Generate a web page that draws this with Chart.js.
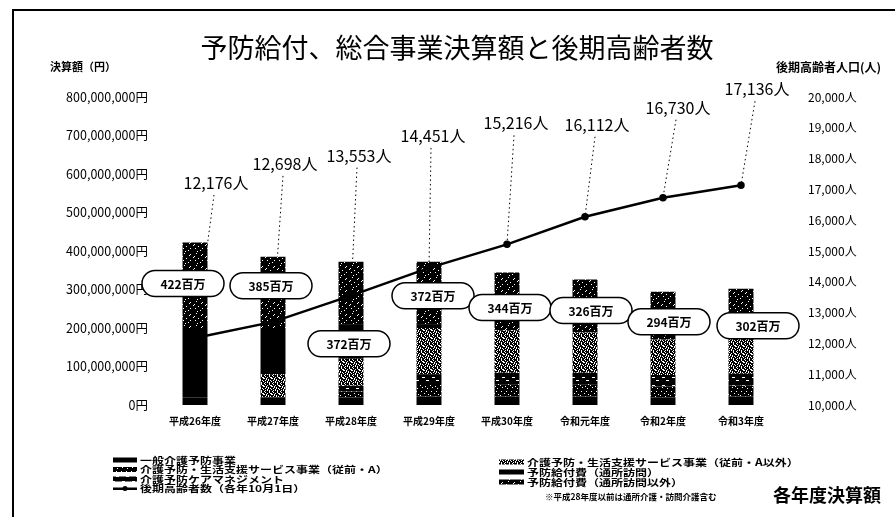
<!DOCTYPE html>
<html lang="ja">
<head>
<meta charset="utf-8">
<title>予防給付、総合事業決算額と後期高齢者数</title>
<script src="https://cdn.jsdelivr.net/npm/chart.js@4.4.1/dist/chart.umd.min.js"></script>
<style>
  html, body { margin: 0; padding: 0; background: #fff; }
  #contenedor { position: relative; width: 895px; height: 517px; overflow: hidden; }
</style>
</head>
<body>
<div id="contenedor"><canvas id="graficoKaigo" width="895" height="517"></canvas></div>
<script>
// 年度
const nendo = ['平成26年度', '平成27年度', '平成28年度', '平成29年度', '平成30年度', '令和元年度', '令和2年度', '令和3年度'];

// 決算額（百万円）
const ippanKaigoYobou = [20, 20, 20, 22, 22, 22, 20, 22];        // 一般介護予防事業
const juzenA = [0, 0, 15, 30, 32, 32, 28, 28];                   // 介護予防・生活支援サービス事業（従前・A）
const careManagement = [0, 0, 15, 28, 30, 30, 30, 31];           // 介護予防ケアマネジメント
const juzenAIgai = [0, 60, 70, 120, 110, 104, 92, 95];           // 介護予防・生活支援サービス事業（従前・A以外）
const yobouTsushoHoumon = [180, 120, 90, 10, 0, 0, 0, 0];        // 予防給付費（通所訪問）
const yobouIgai = [222, 185, 162, 162, 150, 138, 124, 126];      // 予防給付費（通所訪問以外）

// 後期高齢者数（各年10月1日）
const koukiKoureisha = [12176, 12698, 13553, 14451, 15216, 16112, 16730, 17136];

// 目盛り
const ticksKingaku = [0, 100000000, 200000000, 300000000, 400000000, 500000000, 600000000, 700000000, 800000000];
const ticksNinzu = [10000, 11000, 12000, 13000, 14000, 15000, 16000, 17000, 18000, 19000, 20000];

// 吹き出しの位置（棒の上端からのずれ, px）
const posGoukei = [[-12, 41], [-2, 29], [-2, 82], [4, 34], [3, 35], [6, 31], [6, 30], [17, 37]];
// 人数ラベルの位置（点からのずれ, px）
const posNinzu = [[21, -155], [12, -158], [8, -140], [4, -132], [9, -121], [12, -92], [15, -90], [16, -96]];

const FUENTE = '"Noto Sans CJK JP", "Noto Sans", sans-serif';
const canvas = document.getElementById('graficoKaigo');
const ctx = canvas.getContext('2d');

// 白黒の網かけパターン
function patron(filas) {
    const t = document.createElement('canvas');
    t.width = filas[0].length;
    t.height = filas.length;
    const c = t.getContext('2d');
    c.fillStyle = '#000';
    c.fillRect(0, 0, t.width, t.height);
    c.fillStyle = '#fff';
    filas.forEach((f, y) => {
        [...f].forEach((ch, x) => { if (ch === '.') c.fillRect(x, y, 1, 1); });
    });
    return ctx.createPattern(t, 'repeat');
}

const pSolido = '#000';
const pPuntos = patron([
    '##########',
    '#.####.###',
    '##########',
    '####.#####',
    '########.#',
    '.#########',
    '#####.####',
    '##.#######',
    '#######.##',
    '##########'
]);
const pRayas = patron([
    '##########',
    '##...#####',
    '##########',
    '##########',
    '######...#',
    '##########',
    '##########',
    '##########'
]);
const pDenso = patron([
    '#.###.##',
    '###.##..',
    '.#.####.',
    '##.#.###',
    '#.##.#.#',
    '###.###.',
    '#.#.#.##',
    '.####.##'
]);
const pOscuro = patron([
    '############',
    '####.#######',
    '##########.#',
    '#########.##',
    '##.#########',
    '#.##########',
    '######.#####',
    '############',
    '###.######.#',
    '############',
    '########.###',
    '#####.######'
]);

const man = v => v.map(x => x * 1000000);

const datasetsBarras = [
    { label: '一般介護予防事業', data: man(ippanKaigoYobou), backgroundColor: pSolido },
    { label: '介護予防・生活支援サービス事業（従前・A）', data: man(juzenA), backgroundColor: pPuntos },
    { label: '介護予防ケアマネジメント', data: man(careManagement), backgroundColor: pRayas },
    { label: '介護予防・生活支援サービス事業（従前・A以外）', data: man(juzenAIgai), backgroundColor: pDenso },
    { label: '予防給付費（通所訪問）', data: man(yobouTsushoHoumon), backgroundColor: pSolido },
    { label: '予防給付費（通所訪問以外）', data: man(yobouIgai), backgroundColor: pOscuro }
].map(d => Object.assign(d, {
    type: 'bar',
    stack: 'kingaku',
    yAxisID: 'y',
    order: 2,
    barPercentage: 0.32,
    categoryPercentage: 1,
    borderWidth: 0
}));

const datasetLinea = {
    type: 'line',
    label: '後期高齢者数（各年10月1日）',
    data: koukiKoureisha,
    yAxisID: 'y2',
    order: 0,
    borderColor: '#000',
    backgroundColor: '#000',
    borderWidth: 2.5,
    pointRadius: 2.5,
    pointBackgroundColor: '#000',
    tension: 0
};

// 合計（百万円）
const totalMillones = nendo.map((_, i) =>
    ippanKaigoYobou[i] + juzenA[i] + careManagement[i] + juzenAIgai[i] + yobouTsushoHoumon[i] + yobouIgai[i]);

function pastilla(c, cx, cy, w, h) {
    const r = h / 2;
    c.beginPath();
    c.moveTo(cx - w / 2 + r, cy - r);
    c.lineTo(cx + w / 2 - r, cy - r);
    c.arc(cx + w / 2 - r, cy, r, -Math.PI / 2, Math.PI / 2);
    c.lineTo(cx - w / 2 + r, cy + r);
    c.arc(cx - w / 2 + r, cy, r, Math.PI / 2, Math.PI * 1.5);
    c.closePath();
}

// 縦につぶした文字（凡例用）
function textoBajo(c, txt, x, y, esc) {
    c.save();
    c.translate(x, y);
    c.scale(1, esc);
    c.fillText(txt, 0, 0);
    c.restore();
}

const adornos = {
    id: 'adornos',
    beforeDatasetsDraw(chart) {
        // 人数ラベルから点への点線
        const c = chart.ctx;
        const pts = chart.getDatasetMeta(datasetsBarras.length).data;
        c.save();
        c.strokeStyle = '#000';
        c.lineWidth = 1;
        c.setLineDash([1.5, 3]);
        pts.forEach((p, i) => {
            const lx = p.x + posNinzu[i][0];
            const ly = p.y + posNinzu[i][1];
            c.beginPath();
            c.moveTo(lx - 2, ly + 12);
            c.lineTo(p.x, p.y);
            c.stroke();
        });
        c.restore();
    },
    afterDatasetsDraw(chart) {
        const c = chart.ctx;
        const pts = chart.getDatasetMeta(datasetsBarras.length).data;
        const topes = chart.getDatasetMeta(datasetsBarras.length - 1).data;
        c.save();
        // 人数ラベル
        c.fillStyle = '#000';
        c.font = '16px ' + FUENTE;
        c.textAlign = 'center';
        c.textBaseline = 'middle';
        pts.forEach((p, i) => {
            c.fillText(koukiKoureisha[i].toLocaleString('ja-JP') + '人', p.x + posNinzu[i][0], p.y + posNinzu[i][1]);
        });
        // 合計の吹き出し
        c.font = 'bold 12px ' + FUENTE;
        topes.forEach((b, i) => {
            const cx = b.x + posGoukei[i][0];
            const cy = b.y + posGoukei[i][1];
            pastilla(c, cx, cy, 82, 26);
            c.fillStyle = '#fff';
            c.fill();
            c.lineWidth = 1.5;
            c.strokeStyle = '#000';
            c.stroke();
            c.fillStyle = '#000';
            c.fillText(totalMillones[i] + '百万', cx, cy + 1);
        });
        c.restore();
    },
    afterDraw(chart) {
        const c = chart.ctx;
        c.save();
        // 枠
        c.strokeStyle = '#000';
        c.lineWidth = 2;
        c.beginPath();
        c.moveTo(13, 517);
        c.lineTo(13, 10);
        c.lineTo(895, 10);
        c.stroke();

        c.fillStyle = '#000';
        c.textBaseline = 'middle';
        // タイトル
        c.font = '27px ' + FUENTE;
        c.textAlign = 'center';
        c.fillText('予防給付、総合事業決算額と後期高齢者数', 457, 48);
        // 軸タイトル
        c.font = 'bold 11px ' + FUENTE;
        c.textAlign = 'left';
        c.fillText('決算額（円）', 50, 67);
        c.font = 'bold 12px ' + FUENTE;
        c.fillText('後期高齢者人口(人)', 776, 67);

        // 凡例
        const ds = chart.data.datasets;
        const izq = [ds[0], ds[1], ds[2], ds[6]];
        const der = [ds[3], ds[4], ds[5]];
        c.font = 'bold 12px ' + FUENTE;
        izq.forEach((d, i) => {
            const y = 460 + i * 9.5;
            if (d.type === 'line') {
                c.fillRect(113, y - 1, 24, 2.5);
                c.beginPath();
                c.arc(125, y, 2.5, 0, Math.PI * 2);
                c.fill();
            } else {
                c.fillStyle = d.backgroundColor;
                c.fillRect(113, y - 2.5, 24, 5);
                c.fillStyle = '#000';
            }
            textoBajo(c, d.label, 140, y, 0.78);
        });
        der.forEach((d, i) => {
            const y = 462 + i * 10;
            c.fillStyle = d.backgroundColor;
            c.fillRect(499, y - 2.5, 25, 5);
            c.fillStyle = '#000';
            textoBajo(c, d.label, 527, y, 0.8);
        });
        c.font = 'bold 8.5px ' + FUENTE;
        c.fillText('※平成28年度以前は通所介護・訪問介護含む', 545, 497);
        c.font = 'bold 18px ' + FUENTE;
        c.fillText('各年度決算額', 773, 495);
        c.restore();
    }
};

new Chart(ctx, {
    type: 'bar',
    data: {
        labels: nendo,
        datasets: [...datasetsBarras, datasetLinea]
    },
    options: {
        responsive: false,
        animation: false,
        layout: { padding: { top: 97, left: 0, right: 0, bottom: 0 } },
        plugins: {
            legend: { display: false },
            tooltip: { enabled: false }
        },
        scales: {
            x: {
                stacked: true,
                grid: { display: false, drawTicks: false },
                border: { display: false },
                ticks: { color: '#000', font: { family: FUENTE, size: 10, weight: 'bold' }, padding: 10, maxRotation: 0 },
                afterFit: s => { s.height = 112; }
            },
            y: {
                stacked: true,
                position: 'left',
                min: ticksKingaku[0],
                max: ticksKingaku[ticksKingaku.length - 1],
                afterBuildTicks: s => { s.ticks = ticksKingaku.map(v => ({ value: v })); },
                grid: { display: false, drawTicks: false },
                border: { display: false },
                ticks: {
                    color: '#000',
                    padding: 8,
                    font: { family: FUENTE, size: 12.5 },
                    callback: v => v.toLocaleString('ja-JP') + '円'
                },
                afterFit: s => { s.width = 156; }
            },
            y2: {
                position: 'right',
                min: ticksNinzu[0],
                max: ticksNinzu[ticksNinzu.length - 1],
                afterBuildTicks: s => { s.ticks = ticksNinzu.map(v => ({ value: v })); },
                grid: { display: false, drawTicks: false },
                border: { display: false },
                ticks: {
                    color: '#000',
                    padding: 28,
                    font: { family: FUENTE, size: 12 },
                    callback: v => v.toLocaleString('ja-JP') + '人'
                },
                afterFit: s => { s.width = 115; }
            }
        }
    },
    plugins: [adornos]
});
</script>
</body>
</html>
